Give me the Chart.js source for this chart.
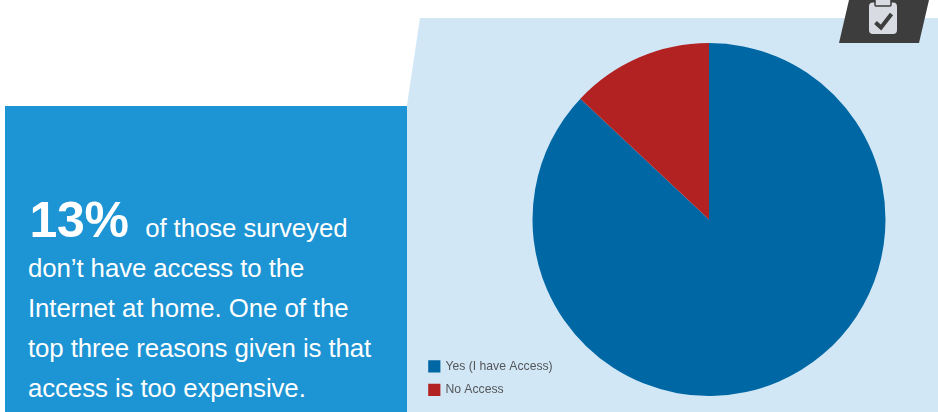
<!DOCTYPE html>
<html>
<head>
<meta charset="utf-8">
<script src="https://cdn.jsdelivr.net/npm/chart.js@4"></script>
<style>
  html, body { margin: 0; padding: 0; background: #fff; }
  #page { position: relative; width: 938px; height: 412px; overflow: hidden; font-family: "Liberation Sans", sans-serif; }
  #panel { position: absolute; inset: 0; background: #d1e7f6; clip-path: polygon(420px 18px, 938px 18px, 938px 412px, 407px 412px, 407px 105px); }
  #callout { position: absolute; left: 4.5px; top: 105.5px; width: 402.5px; height: 307px; background: #1d94d3; }
  #copy { position: absolute; left: 28px; top: 208px; width: 370px; color: #fff; font-size: 25.85px; line-height: 40px; letter-spacing: -0.1px; }
  #copy div { white-space: nowrap; height: 40px; }
  #copy b { font-size: 50px; line-height: 20px; margin-left: 1.5px; margin-right: 16.5px; letter-spacing: -0.3px; }
  #badge { position: absolute; left: 0; top: 0; }
  #chart { position: absolute; left: 0; top: 0; }
</style>
</head>
<body>
<div id="page">
  <div id="panel"></div>
  <div id="callout"></div>
  <div id="copy">
    <div><b>13%</b>of those surveyed</div>
    <div>don’t have access to the</div>
    <div>Internet at home. One of the</div>
    <div>top three reasons given is that</div>
    <div>access is too expensive.</div>
  </div>
  <canvas id="chart" width="938" height="412"></canvas>
  <svg id="badge" width="938" height="60" viewBox="0 0 938 60">
    <polygon points="849,0 929,0 919,43 839,43" fill="#3d3d3d"/>
    <rect x="869" y="2.5" width="28" height="31.5" rx="4" fill="#d8dbe1"/>
    <rect x="875" y="-3" width="16" height="9" rx="1" fill="#d8dbe1" stroke="#3d3d3d" stroke-width="1.5"/>
    <polyline points="875.5,22.5 881,27.5 891.5,14" fill="none" stroke="#3d3d3d" stroke-width="4"/>
  </svg>
</div>
<script>
  const categories = ["Yes (I have Access)", "No Access"];
  const shares = [87, 13];
  const sliceColors = ["#0067a5", "#b22222"];

  // Places the legend in the panel's lower-left corner, clear of the pie.
  const legendCorner = {
    id: "legendCorner",
    afterLayout(chart) {
      const l = chart.legend;
      const w = l.width, h = l.height;
      l.left = 418; l.top = 349;
      l.right = l.left + w; l.bottom = l.top + h;
    }
  };

  new Chart(document.getElementById("chart"), {
    type: "pie",
    data: {
      labels: categories,
      datasets: [{ data: shares, backgroundColor: sliceColors, borderWidth: 0 }]
    },
    options: {
      responsive: false,
      animation: false,
      // Padding centres the pie on the right part of the panel.
      layout: { padding: { left: 532.5, right: 52.5, top: 43, bottom: 16 } },
      plugins: {
        tooltip: { enabled: false },
        legend: {
          position: "chartArea",
          align: "start",
          labels: {
            usePointStyle: true, pointStyle: "rect",
            boxWidth: 10, boxHeight: 13, padding: 11.3,
            color: "#55565a",
            font: { family: "Liberation Sans", size: 12.2 }
          }
        }
      }
    },
    plugins: [legendCorner]
  });
</script>
</body>
</html>
